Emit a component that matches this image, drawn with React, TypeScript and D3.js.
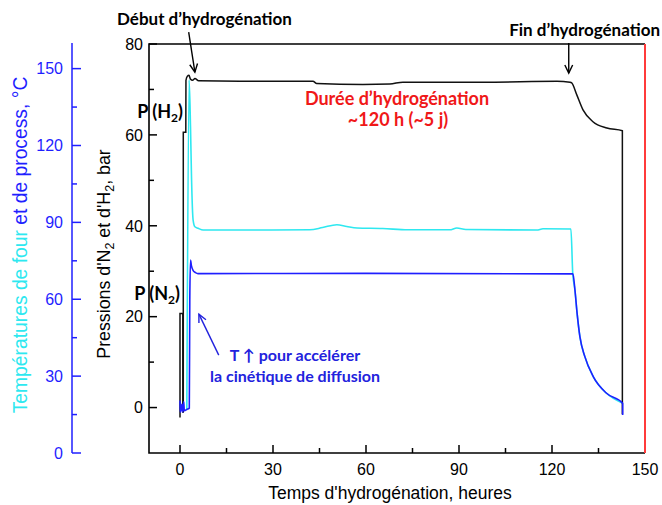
import React from "react";
import * as d3 from "d3";

// ---- data (time in hours, pressure in bar, temperature in °C) ----
const pressureT = [0.0, 0.0, 0.9, 0.9, 1.06, 1.06, 1.87, 1.92, 2.37, 2.9, 3.35, 4.04, 4.82, 6.0, 19.3, 42.9, 44.1, 59.0, 67.7, 71.9, 97.9, 121.6, 125.8, 126.4, 128.0, 130.0, 133.2, 137.7, 142.7, 142.7];
const pressureV = [-2.2, 20.7, 20.7, -1.0, -1.0, 60.6, 60.6, 72.0, 72.9, 73.1, 72.3, 72.0, 72.4, 71.9, 71.8, 71.8, 71.3, 71.1, 71.2, 71.6, 71.6, 71.8, 71.6, 71.4, 68.8, 65.5, 62.9, 61.5, 60.9, -1.5];

const processT = [0.0, 0.05, 0.3, 0.6, 0.9, 1.2, 1.4, 2.2, 3.0, 3.16, 3.39, 3.7, 4.2, 5.0, 5.8, 60, 126.75, 127.4, 128.1, 129.0, 130.6, 133.3, 137.6, 142.8, 142.8];
const processV = [20.5, 16, 16.5, 19, 16, 20, 16.5, 17, 17.5, 60, 75.3, 73, 71.3, 70.4, 70.0, 70.1, 69.9, 63.6, 54.5, 45.4, 37.6, 29.8, 23.3, 19.4, 14.8];

const furnaceT = [2.2, 2.94, 3.39, 3.71, 4.23, 4.8, 5.84, 7.45, 41.9, 46, 50.6, 53.8, 57.1, 65.4, 73.5, 87.0, 89.3, 92.2, 115.1, 117.1, 126.1, 126.7, 127.4, 128.1, 129.0, 130.6, 133.3, 137.6, 142.8];
const furnaceV = [17, 145.6, 127.3, 107.8, 90.9, 88.3, 87.7, 87.0, 87.1, 88.0, 89.1, 88.4, 87.8, 87.6, 87.1, 87.1, 87.8, 87.2, 87.0, 87.5, 87.4, 69.9, 63.6, 54.5, 45.4, 37.6, 29.8, 23.3, 19.4];

const xTicks = [0, 30, 60, 90, 120, 150];
const xMinor = [15, 45, 75, 105, 135];
const pTicks = [0, 20, 40, 60, 80];
const pMinor = [10, 30, 50, 70];
const tTicks = [0, 30, 60, 90, 120, 150];
const tMinor = [15, 45, 75, 105, 135];

const BLUE = "#1f1fff";
const CYAN = "#2ee8f0";
const RED = "#ff3b3b";
const ARIAL = "'Liberation Sans', Arial, sans-serif";
const BOLD = "Lato, 'Open Sans', sans-serif";

export default function App() {
  const x = d3.scaleLinear().domain([-10, 150]).range([149, 645]);
  const yP = d3.scaleLinear().domain([-10, 80]).range([453, 44]);
  const yT = d3.scaleLinear().domain([0, 160]).range([453, 43]);

  const lineP = d3.line<number>().x((_, i) => x(pressureT[i])).y((v) => yP(v)).curve(d3.curveMonotoneX);
  const lineProc = d3.line<number>().x((_, i) => x(processT[i])).y((v) => yT(v)).curve(d3.curveMonotoneX);
  const lineFurn = d3.line<number>().x((_, i) => x(furnaceT[i])).y((v) => yT(v)).curve(d3.curveMonotoneX);

  const arrow = (x1: number, y1: number, x2: number, y2: number, color: string, key: string) => {
    const a = Math.atan2(y2 - y1, x2 - x1);
    const L = 9, w = 0.45;
    const h1 = [x2 - L * Math.cos(a - w), y2 - L * Math.sin(a - w)];
    const h2 = [x2 - L * Math.cos(a + w), y2 - L * Math.sin(a + w)];
    return (
      <g key={key} stroke={color} strokeWidth={1.4} fill="none">
        <line x1={x1} y1={y1} x2={x2} y2={y2} />
        <polyline points={`${h1[0]},${h1[1]} ${x2},${y2} ${h2[0]},${h2[1]}`} />
      </g>
    );
  };

  const left = x(-10), right = x(150), top = yP(80), bottom = yP(-10);
  const tAxisX = 72;

  return (
    <svg width={662} height={505} style={{ position: "absolute", left: 0, top: 0 }} fontFamily={ARIAL}>
      <rect width={662} height={505} fill="#fff" />

      {/* temperature axis */}
      <line x1={tAxisX} x2={tAxisX} y1={yT(160)} y2={yT(0)} stroke={BLUE} strokeWidth={1.5} />
      {tTicks.map((t) => (
        <g key={"tt" + t}>
          <line x1={tAxisX} x2={tAxisX + 9} y1={yT(t)} y2={yT(t)} stroke={BLUE} strokeWidth={1.5} />
          <text x={63} y={yT(t)} dy="0.36em" textAnchor="end" fontSize={16} fill={BLUE}>{t}</text>
        </g>
      ))}
      {tMinor.map((t) => (
        <line key={"tm" + t} x1={tAxisX} x2={tAxisX + 5} y1={yT(t)} y2={yT(t)} stroke={BLUE} strokeWidth={1.5} />
      ))}
      <text transform="translate(27,245) rotate(-90)" textAnchor="middle" fontSize={19.3}>
        <tspan fill={CYAN}>Températures de four</tspan>
        <tspan fill={BLUE}> et de process, °C</tspan>
      </text>

      {/* pressure axis + frame */}
      {pTicks.map((p) => (
        <g key={"pt" + p}>
          <line x1={left} x2={left + 8} y1={yP(p)} y2={yP(p)} stroke="#000" strokeWidth={1.5} />
          <text x={143} y={yP(p)} dy="0.36em" textAnchor="end" fontSize={16}>{p}</text>
        </g>
      ))}
      {pMinor.map((p) => (
        <line key={"pm" + p} x1={left} x2={left + 5} y1={yP(p)} y2={yP(p)} stroke="#000" strokeWidth={1.5} />
      ))}
      <text transform="translate(110,254) rotate(-90)" textAnchor="middle" fontSize={17.8}>
        Pressions d'N<tspan fontSize={12.5} dy={4}>2</tspan>
        <tspan dy={-4}> et d'H</tspan><tspan fontSize={12.5} dy={4}>2</tspan>
        <tspan dy={-4}>, bar</tspan>
      </text>

      {xTicks.map((t) => (
        <g key={"xt" + t}>
          <line x1={x(t)} x2={x(t)} y1={bottom} y2={bottom - 8} stroke="#000" strokeWidth={1.5} />
          <text x={x(t)} y={475} textAnchor="middle" fontSize={16}>{t}</text>
        </g>
      ))}
      {xMinor.map((t) => (
        <line key={"xm" + t} x1={x(t)} x2={x(t)} y1={bottom} y2={bottom - 5} stroke="#000" strokeWidth={1.5} />
      ))}
      <text x={390} y={499} textAnchor="middle" fontSize={17.5}>Temps d'hydrogénation, heures</text>

      {/* data */}
      <path d={lineFurn(furnaceV) || ""} fill="none" stroke={CYAN} strokeWidth={1.6} />
      <path d={lineP(pressureV) || ""} fill="none" stroke="#111" strokeWidth={1.5} />
      <path d={lineProc(processV) || ""} fill="none" stroke={BLUE} strokeWidth={1.6} />

      {/* frame */}
      <polyline points={`${right},${top} ${left},${top} ${left},${bottom} ${right},${bottom}`} fill="none" stroke="#000" strokeWidth={1.6} />
      <line x1={right} x2={right} y1={top} y2={bottom} stroke={RED} strokeWidth={2} />

      {/* annotations */}
      <g fontFamily={BOLD} fontWeight={700}>
        <text x={117} y={25} fontSize={17} fill="#000">Début d’hydrogénation</text>
        <text x={660} y={36} fontSize={17} fill="#000" textAnchor="end">Fin d’hydrogénation</text>
        <text x={183} y={118} fontSize={18} fill="#000" textAnchor="end">
          P (H<tspan fontSize={12} dy={4}>2</tspan><tspan dy={-4}>)</tspan>
        </text>
        <text x={180} y={300} fontSize={18} fill="#000" textAnchor="end">
          P (N<tspan fontSize={12} dy={4}>2</tspan><tspan dy={-4}>)</tspan>
        </text>
        <text x={397} y={105} fontSize={18} fill="#f01818" textAnchor="middle">Durée d’hydrogénation</text>
        <text x={398} y={126} fontSize={18} fill="#f01818" textAnchor="middle">~120 h (~5 j)</text>
        <text x={295} y={361} fontSize={16} fill="#2222dd" textAnchor="middle">T ↑ pour accélérer</text>
        <text x={295} y={382} fontSize={16} fill="#2222dd" textAnchor="middle">la cinétique de diffusion</text>
      </g>
      {arrow(x(2.8), yP(82.6), x(4.8), yP(73.8), "#000", "a1")}
      {arrow(x(125.4), yP(80.2), x(125.4), yP(73.6), "#000", "a2")}
      {arrow(x(12.5), yT(38.2), x(6.1), yT(54.2), "#2222dd", "a3")}
    </svg>
  );
}
